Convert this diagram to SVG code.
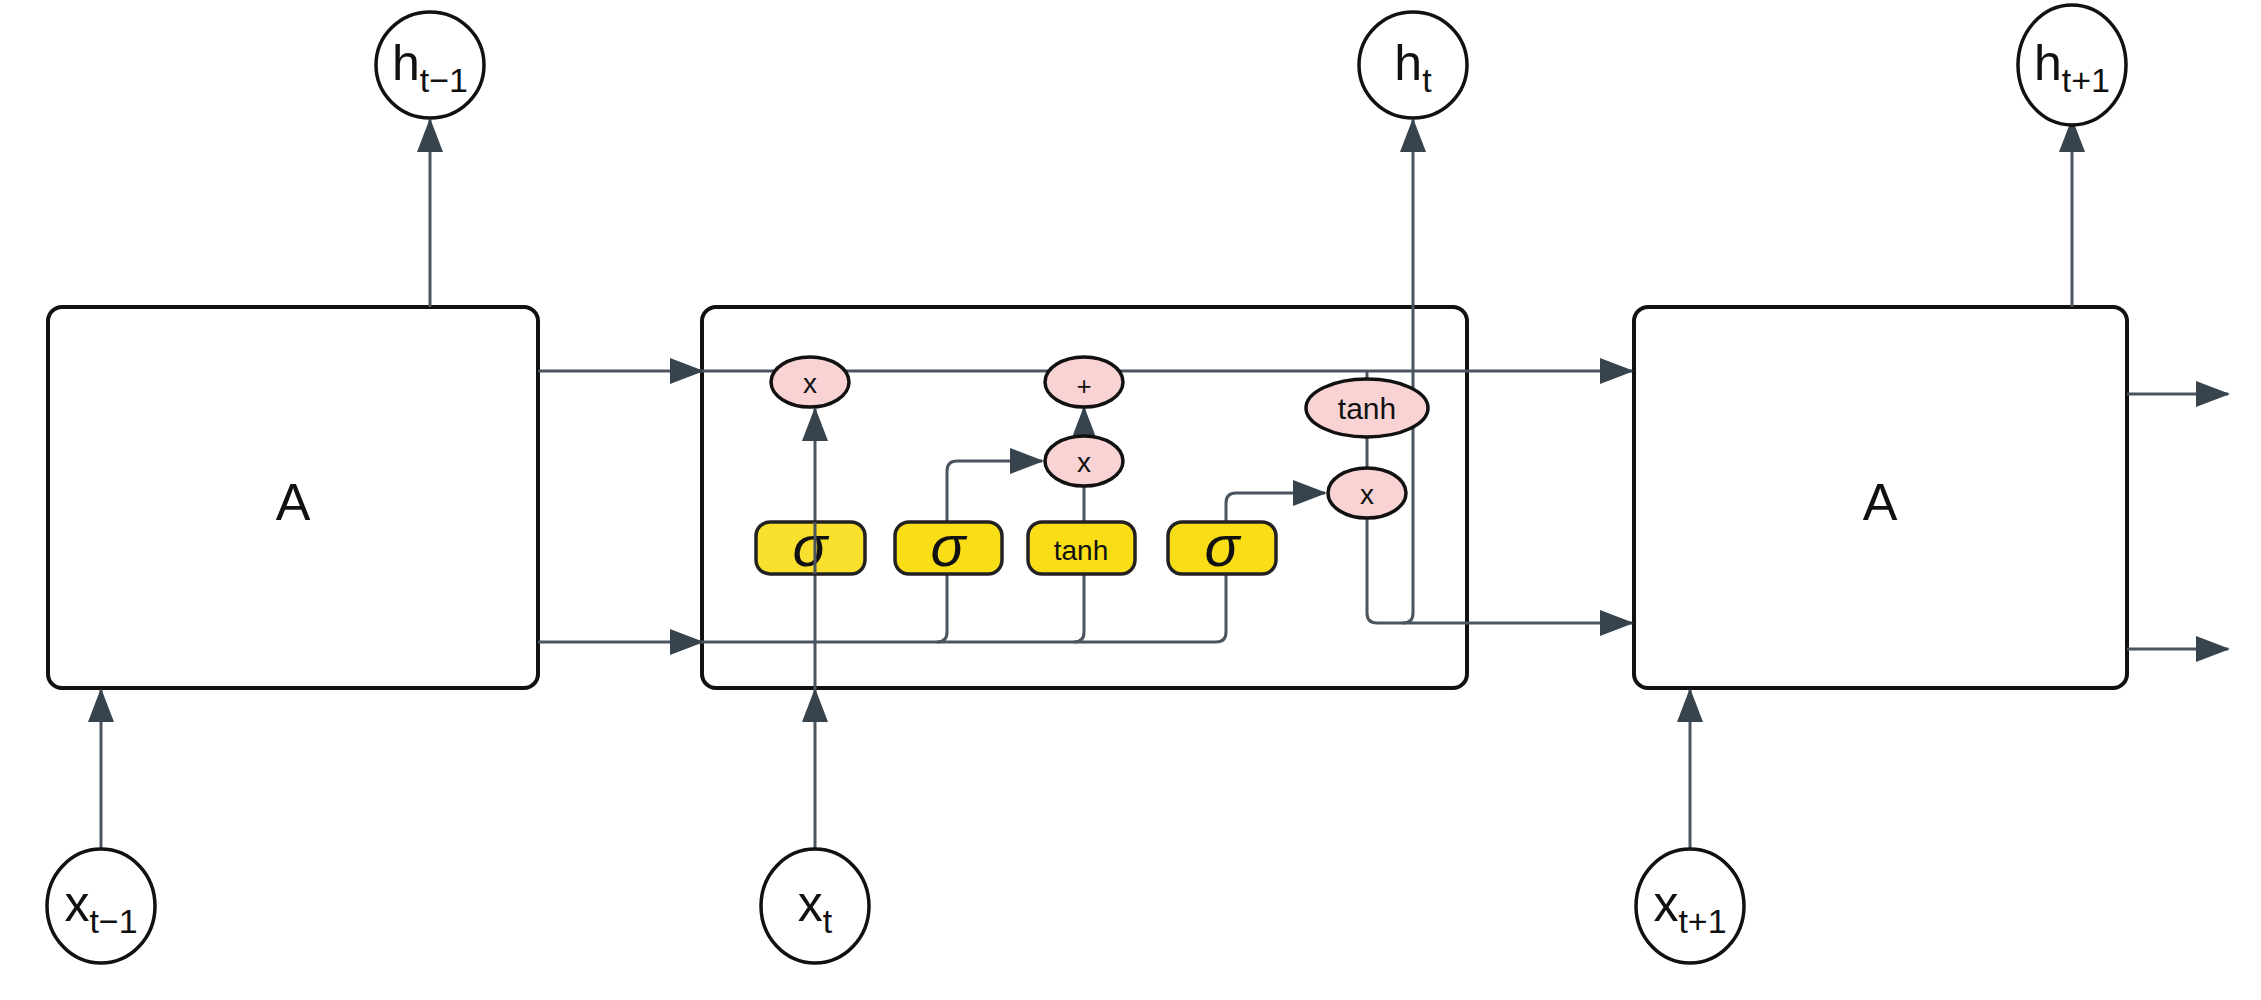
<svg xmlns="http://www.w3.org/2000/svg" width="2261" height="1000" viewBox="0 0 2261 1000">
<style>
.box{fill:#fff;stroke:#111;stroke-width:4}
.circ{fill:#fff;stroke:#111;stroke-width:3.5}
.pink{fill:#f9d3d3;stroke:#111;stroke-width:3.5}
.yel{fill:#f9dd17;stroke:#222;stroke-width:3.5}
.ln{fill:none;stroke:#4a5560;stroke-width:3}
.t{font-family:"Liberation Sans",Arial,sans-serif;fill:#111}
</style>
<defs>
<marker id="ah" markerUnits="userSpaceOnUse" markerWidth="34" markerHeight="26" refX="32" refY="13" orient="auto"><path d="M0,0 L34,13 L0,26 Z" fill="#37434d"/></marker>
</defs>
<rect width="2261" height="1000" fill="#fff"/>
<g id="boxA1"><rect class="box" x="48" y="307" width="490" height="381" rx="14"/><text class="t" x="293" y="520" font-size="52" text-anchor="middle">A</text></g>
<g id="cell"><rect class="box" x="702" y="307" width="765" height="381" rx="14"/></g>
<g id="boxA2"><rect class="box" x="1634" y="307" width="493" height="381" rx="14"/><text class="t" x="1880" y="520" font-size="52" text-anchor="middle">A</text></g>
<g id="connectors">
<path class="ln" d="M430,307 V120" marker-end="url(#ah)"/>
<path class="ln" d="M101,851 V690" marker-end="url(#ah)"/>
<path class="ln" d="M538,371 H702" marker-end="url(#ah)"/>
<path class="ln" d="M538,642 H702" marker-end="url(#ah)"/>
<path class="ln" d="M702,371 H1632" marker-end="url(#ah)"/>
<path class="ln" d="M815,851 V690" marker-end="url(#ah)"/>
<path class="ln" d="M815,690 V409" marker-end="url(#ah)"/>
<path class="ln" d="M702,642 H1216 Q1226,642 1226,632 V503 Q1226,493 1236,493 H1325" marker-end="url(#ah)"/>
<path class="ln" d="M937,642 Q947,642 947,632 V471 Q947,461 957,461 H1042" marker-end="url(#ah)"/>
<path class="ln" d="M1074,642 Q1084,642 1084,632 V486"/>
<path class="ln" d="M1084,436 V408" marker-end="url(#ah)"/>
<path class="ln" d="M1367,371 V379"/>
<path class="ln" d="M1367,437 V468"/>
<path class="ln" d="M1367,518 V613 Q1367,623 1377,623 H1632" marker-end="url(#ah)"/>
<path class="ln" d="M1403,623 Q1413,623 1413,613 V120" marker-end="url(#ah)"/>
<path class="ln" d="M1690,851 V690" marker-end="url(#ah)"/>
<path class="ln" d="M2072,307 V120" marker-end="url(#ah)"/>
<path class="ln" d="M2127,394 H2228" marker-end="url(#ah)"/>
<path class="ln" d="M2127,649 H2228" marker-end="url(#ah)"/>
</g>
<g id="mul1"><ellipse class="pink" cx="810" cy="382" rx="39" ry="25"/><text class="t" x="810" y="393" font-size="28" text-anchor="middle">x</text></g>
<g id="add"><ellipse class="pink" cx="1084" cy="382" rx="39" ry="25"/><text class="t" x="1084" y="395" font-size="26" text-anchor="middle">+</text></g>
<g id="mul2"><ellipse class="pink" cx="1084" cy="461" rx="39" ry="25"/><text class="t" x="1084" y="472" font-size="28" text-anchor="middle">x</text></g>
<g id="tanh2"><ellipse class="pink" cx="1367" cy="408" rx="61" ry="29"/><text class="t" x="1367" y="419" font-size="30" text-anchor="middle">tanh</text></g>
<g id="mul3"><ellipse class="pink" cx="1367" cy="493" rx="39" ry="25"/><text class="t" x="1367" y="504" font-size="28" text-anchor="middle">x</text></g>
<g id="sig1"><rect class="yel" x="756" y="522" width="109" height="52" rx="14" fill-opacity="0.9"/><text class="t" x="810" y="566" font-size="58" font-style="italic" text-anchor="middle" font-family="Liberation Serif,serif">σ</text></g>
<g id="sig2"><rect class="yel" x="895" y="522" width="107" height="52" rx="14"/><text class="t" x="948" y="566" font-size="58" font-style="italic" text-anchor="middle" font-family="Liberation Serif,serif">σ</text></g>
<g id="tanh1"><rect class="yel" x="1028" y="522" width="107" height="52" rx="14"/><text class="t" x="1081" y="560" font-size="28" text-anchor="middle">tanh</text></g>
<g id="sig3"><rect class="yel" x="1168" y="522" width="108" height="52" rx="14"/><text class="t" x="1222" y="566" font-size="58" font-style="italic" text-anchor="middle" font-family="Liberation Serif,serif">σ</text></g>
<path class="ln" d="M815,574 V522" />
<g id="h_prev"><ellipse class="circ" cx="430" cy="65" rx="54" ry="53"/><text class="t" x="430" y="80" font-size="50" text-anchor="middle">h<tspan font-size="34" dy="12">t−1</tspan></text></g>
<g id="h_t"><ellipse class="circ" cx="1413" cy="65" rx="54" ry="53"/><text class="t" x="1413" y="80" font-size="50" text-anchor="middle">h<tspan font-size="34" dy="12">t</tspan></text></g>
<g id="h_next"><ellipse class="circ" cx="2072" cy="65" rx="54" ry="60"/><text class="t" x="2072" y="80" font-size="50" text-anchor="middle">h<tspan font-size="34" dy="12">t+1</tspan></text></g>
<g id="x_prev"><ellipse class="circ" cx="101" cy="906" rx="54" ry="57"/><text class="t" x="101" y="921" font-size="50" text-anchor="middle">x<tspan font-size="34" dy="12">t−1</tspan></text></g>
<g id="x_t"><ellipse class="circ" cx="815" cy="906" rx="54" ry="57"/><text class="t" x="815" y="921" font-size="50" text-anchor="middle">x<tspan font-size="34" dy="12">t</tspan></text></g>
<g id="x_next"><ellipse class="circ" cx="1690" cy="906" rx="54" ry="57"/><text class="t" x="1690" y="921" font-size="50" text-anchor="middle">x<tspan font-size="34" dy="12">t+1</tspan></text></g>
</svg>
